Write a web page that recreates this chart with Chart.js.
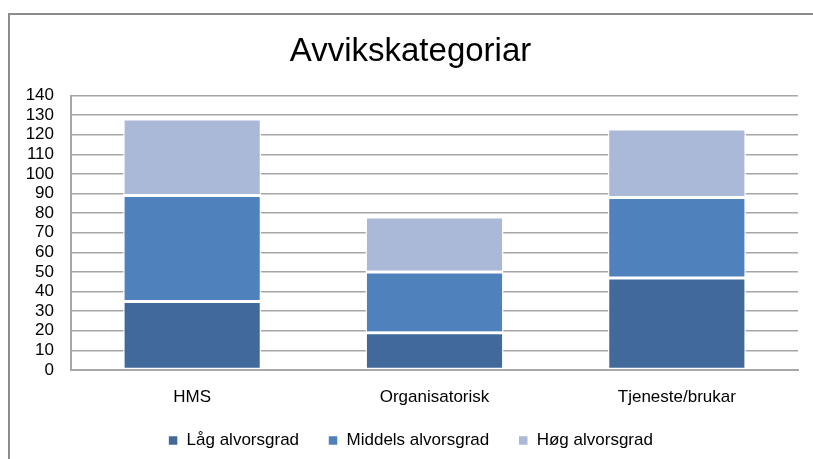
<!DOCTYPE html>
<html>
<head>
<meta charset="utf-8">
<script src="https://cdn.jsdelivr.net/npm/chart.js@4"></script>
<style>
  html, body { margin: 0; padding: 0; background: #fff; }
  #wrap { width: 813px; height: 459px; position: relative; }
</style>
</head>
<body>
<div id="wrap"><canvas id="grafico" width="813" height="459"></canvas></div>
<script>
const kategoriar = ['HMS', 'Organisatorisk', 'Tjeneste/brukar'];
const seriar = ['Låg alvorsgrad', 'Middels alvorsgrad', 'Høg alvorsgrad'];
const lag = [35, 19, 47];
const middels = [54, 31, 41];
const hog = [39, 28, 35];
const fargar = ['#416a9b', '#4f81bd', '#aab9d7'];

const fontFamilie = '"Liberation Sans", Arial, sans-serif';

// ramme rundt diagrammet (venstre og topp kant)
const ramme = {
    id: 'ramme',
    beforeDraw(chart) {
        const ctx = chart.ctx;
        ctx.save();
        ctx.strokeStyle = '#8c8c8c';
        ctx.lineWidth = 2;
        ctx.beginPath();
        ctx.moveTo(9, chart.height);
        ctx.lineTo(9, 14);
        ctx.lineTo(chart.width, 14);
        ctx.stroke();
        ctx.restore();
    }
};

const ctx = document.getElementById('grafico').getContext('2d');
new Chart(ctx, {
    type: 'bar',
    data: {
        labels: kategoriar,
        datasets: [lag, middels, hog].map((verdiar, i) => ({
            label: seriar[i],
            data: verdiar,
            backgroundColor: fargar[i],
            borderColor: '#ffffff',
            borderWidth: 1.5,
            borderSkipped: false,
            categoryPercentage: 1,
            barPercentage: 0.57
        }))
    },
    options: {
        responsive: false,
        animation: false,
        layout: { padding: { left: 23, right: 15, top: 32, bottom: 0 } },
        plugins: {
            title: {
                display: true,
                text: 'Avvikskategoriar',
                color: '#000',
                font: { family: fontFamilie, size: 33, weight: 'normal' },
                padding: { top: 0, bottom: 24 }
            },
            legend: {
                position: 'bottom',
                labels: {
                    color: '#000',
                    font: { family: fontFamilie, size: 17 },
                    boxWidth: 10,
                    boxHeight: 10,
                    padding: 12,
                    generateLabels(chart) {
                        const items = Chart.defaults.plugins.legend.labels.generateLabels(chart);
                        // litt ekstra luft mellom elementa
                        items.forEach((it, i) => { if (i < items.length - 1) it.text += '\u2003'; });
                        return items;
                    }
                }
            },
            tooltip: { enabled: false }
        },
        scales: {
            x: {
                stacked: true,
                grid: { display: false, drawTicks: false },
                border: { color: '#a6a6a6', width: 2 },
                ticks: { color: '#000', font: { family: fontFamilie, size: 17 }, padding: 17 },
                afterFit(axis) { axis.height = 50; }
            },
            y: {
                stacked: true,
                min: 0,
                max: 140,
                ticks: { stepSize: 10, autoSkip: false, color: '#000', font: { family: fontFamilie, size: 17 }, padding: 17 },
                grid: { color: '#a6a6a6', lineWidth: 1.5, drawTicks: false },
                border: { color: '#a6a6a6', width: 2 },
                afterFit(axis) { axis.width = 48; }
            }
        }
    },
    plugins: [ramme]
});
</script>
</body>
</html>
